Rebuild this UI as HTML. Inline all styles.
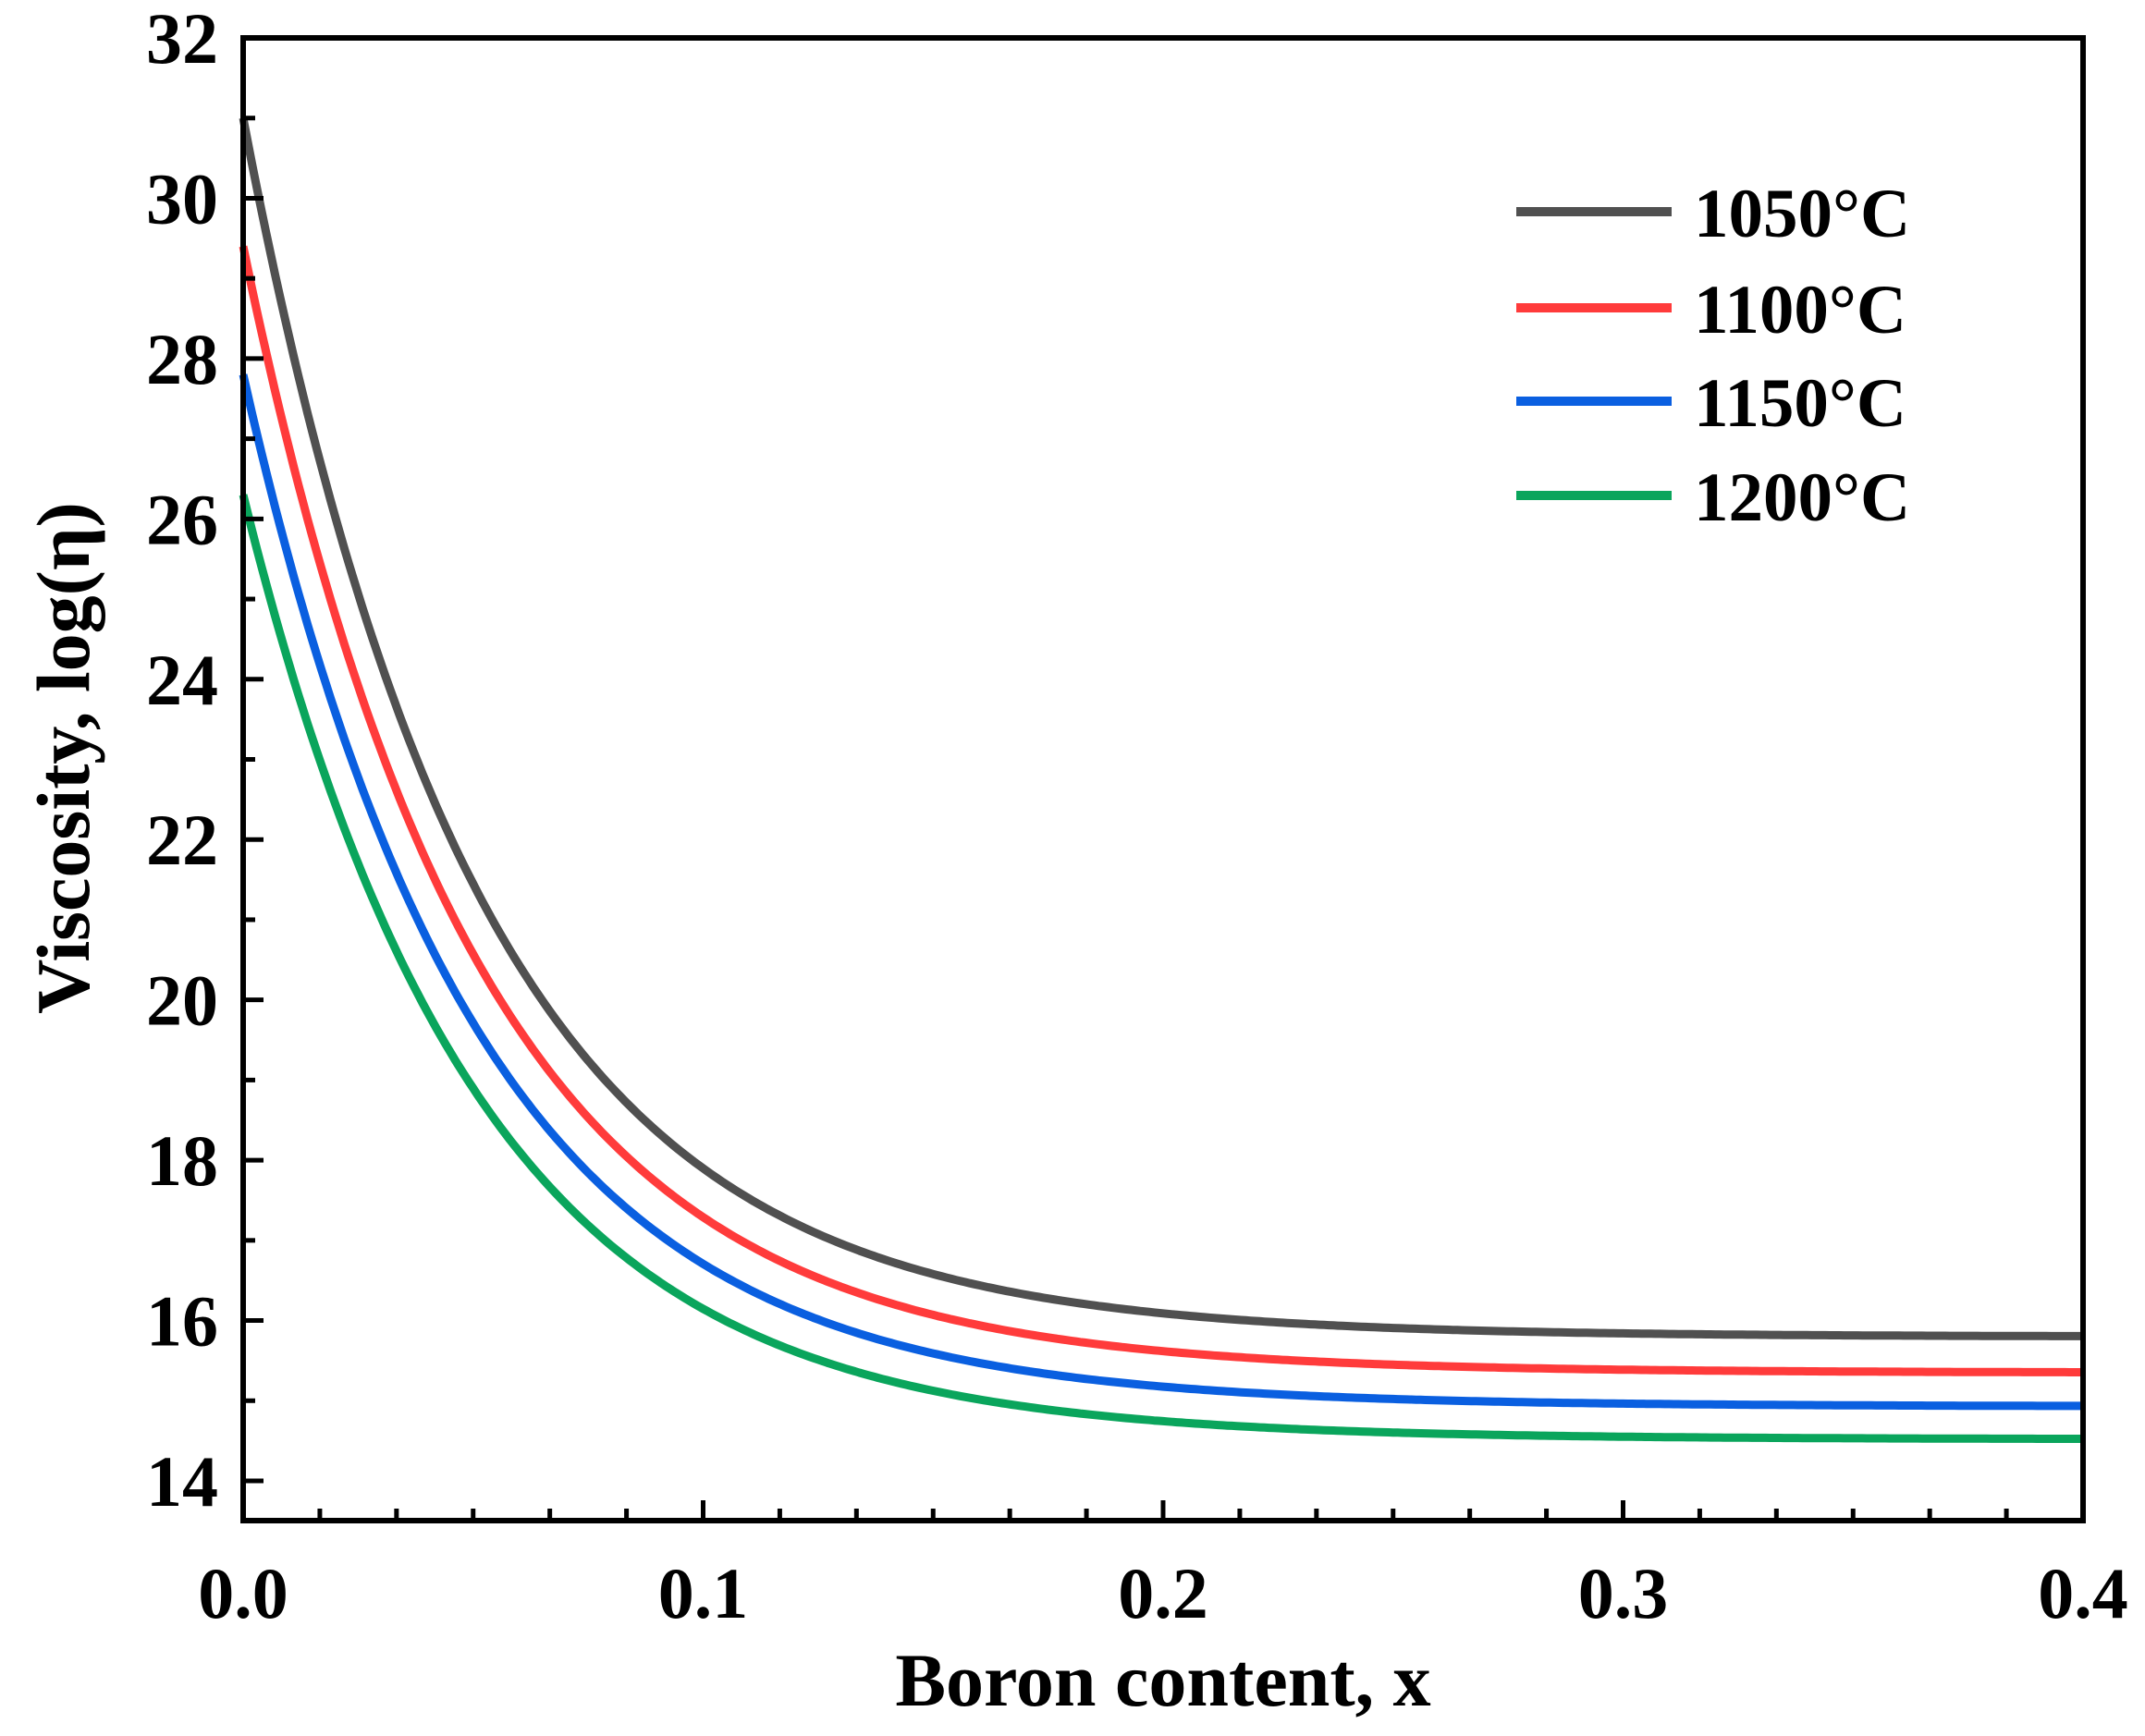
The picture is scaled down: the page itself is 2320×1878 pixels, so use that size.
<!DOCTYPE html>
<html><head><meta charset="utf-8"><style>
html,body{margin:0;padding:0;background:#fff;}
svg{display:block;}
text{font-family:"Liberation Serif",serif;font-weight:bold;fill:#000;}
</style></head><body>
<svg id="s" width="2320" height="1878" viewBox="0 0 2320 1878" xmlns="http://www.w3.org/2000/svg">
<g id="curves" fill="none" stroke-width="9" stroke-linejoin="round"></g>
<g id="ticks" stroke="#000" stroke-width="5"></g>
<rect x="263" y="41" width="1990" height="1604" fill="none" stroke="#000" stroke-width="6"/>
<g id="labels" font-size="78"></g>
<text x="1258" y="1845" font-size="82" text-anchor="middle">Boron content, x</text>
<text transform="translate(96,820) rotate(-90)" font-size="82" text-anchor="middle">Viscosity, log(η)</text>
<g font-size="75">
<line x1="1640" y1="229" x2="1808" y2="229" stroke="#505050" stroke-width="10"/>
<text x="1832" y="256">1050°C</text>
<line x1="1640" y1="333" x2="1808" y2="333" stroke="#ff3b3b" stroke-width="10"/>
<text x="1832" y="360">1100°C</text>
<line x1="1640" y1="434" x2="1808" y2="434" stroke="#0a5fe0" stroke-width="10"/>
<text x="1832" y="461">1150°C</text>
<line x1="1640" y1="536" x2="1808" y2="536" stroke="#0aa55c" stroke-width="10"/>
<text x="1832" y="563">1200°C</text>
</g>
</svg>
<script>
var L=263,R=2253,T=41,B=1645;
function X(x){return L+(R-L)*x/0.4;}
function Y(y){return 1602-(y-14)*(1602-41)/18;}
var ns="http://www.w3.org/2000/svg";
var series=[[31.0,15.8,"#505050"],[29.4,15.35,"#ff3b3b"],[27.8,14.93,"#0a5fe0"],[26.3,14.52,"#0aa55c"]];
var cg=document.getElementById("curves");
series.forEach(function(s){
 var d="";
 for(var i=0;i<=400;i++){var x=i/1000;var y=s[1]+(s[0]-s[1])*Math.exp(-x/0.0505);
 d+=(i?"L":"M")+X(x).toFixed(1)+","+Y(y).toFixed(1);}
 var p=document.createElementNS(ns,"path");p.setAttribute("d",d);p.setAttribute("stroke",s[2]);cg.appendChild(p);
});
var tg=document.getElementById("ticks"),lg=document.getElementById("labels");
function line(x1,y1,x2,y2){var l=document.createElementNS(ns,"line");l.setAttribute("x1",x1);l.setAttribute("y1",y1);l.setAttribute("x2",x2);l.setAttribute("y2",y2);tg.appendChild(l);}
function txt(x,y,t,a){var e=document.createElementNS(ns,"text");e.setAttribute("x",x);e.setAttribute("y",y);e.setAttribute("text-anchor",a);e.textContent=t;lg.appendChild(e);}
for(var v=14;v<=32;v++){var y=Y(v);if(v%2==0){line(L,y,L+22,y);txt(236,y+27,String(v),"end");}else line(L,y,L+13,y);}
for(var k=0;k<=24;k++){var x=X(k*0.4/24);if(k%6==0){line(x,B,x,B-22);txt(x,1750,(k/60).toFixed(1),"middle");}else line(x,B,x,B-13);}
</script>
</body></html>
